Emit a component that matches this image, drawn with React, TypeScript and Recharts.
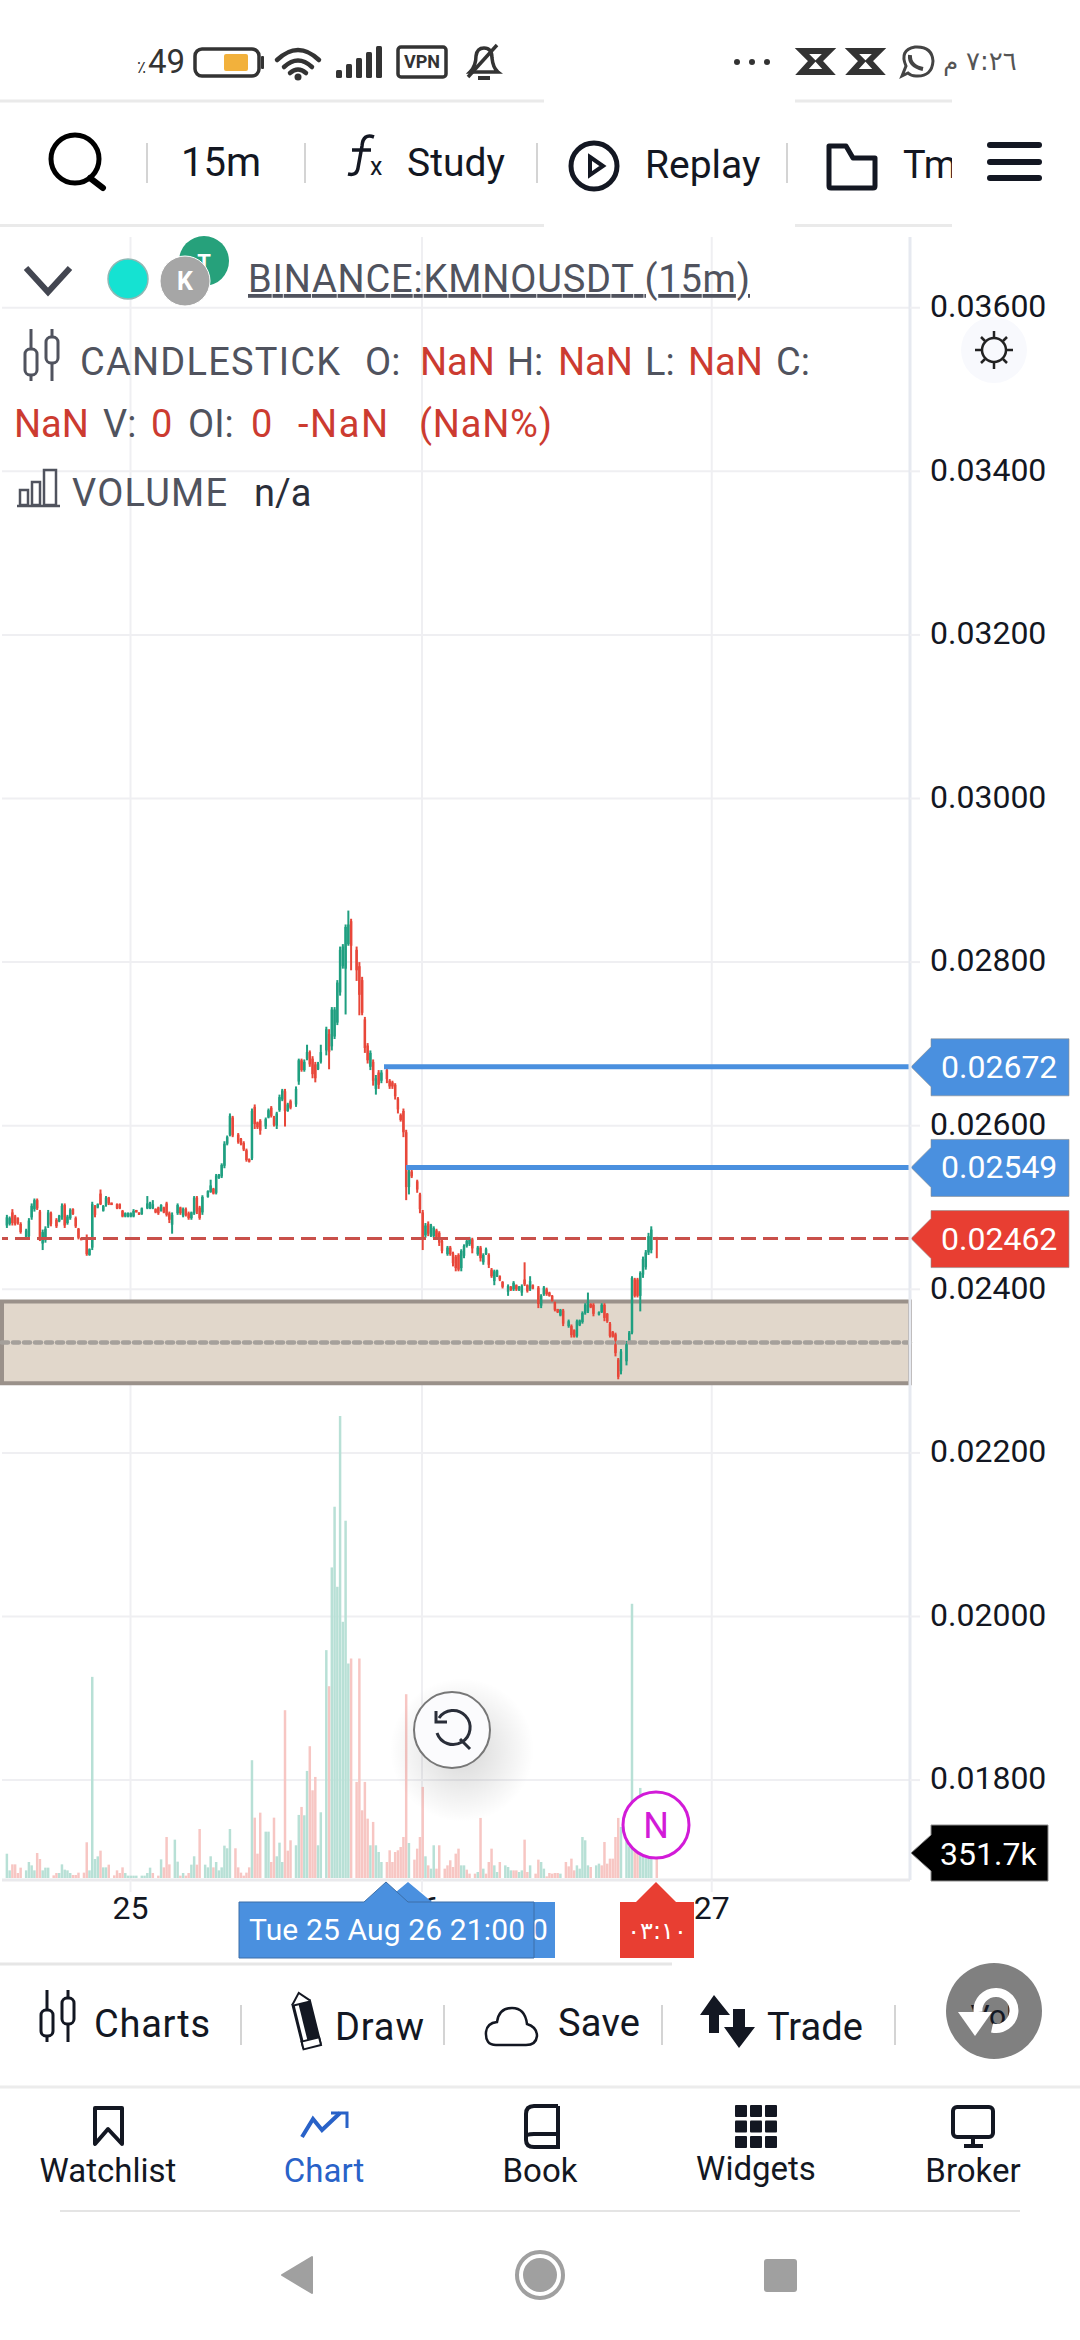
import React from "react";
import { ComposedChart, Bar, XAxis, YAxis, CartesianGrid, ReferenceLine, ReferenceArea } from "recharts";

// Prices in units of 0.00001 (2462 = 0.02462). null = empty slot.
const PRICE_UNIT = 0.00001;
const highs = [
  2491,2489,2498,2491,2488,2482,null,2474,2487,2505,2511,
  2511,2497,2473,2477,2497,2495,null,2487,2491,2505,2505,
  2491,2499,2499,2489,2475,2463,null,2467,2450,2507,2503,
  2505,2522,2503,2514,2513,2506,null,2505,2505,2497,2494,
  2494,2494,2498,2497,2494,2500,null,2514,2507,2509,2499,
  2501,2504,2501,2507,2495,2494,null,2505,2501,2500,2500,
  2495,2495,2514,2514,2502,2515,null,2521,2534,2524,2541,
  2541,2554,2581,2588,2615,2612,null,2591,2585,2581,2572,
  2560,2621,2626,2605,2608,null,2610,2621,2624,2612,2617,
  2638,2645,2645,2628,2632,null,2648,2682,2682,2681,2699,
  2692,2685,2678,2678,2699,null,2721,2718,2745,2745,2778,
  2819,2822,2846,2863,2853,null,2819,2800,2782,2733,2701,
  2692,2681,2662,2668,2668,null,2670,2657,2655,2652,2635,
  2615,2621,2595,2546,2546,null,2534,2518,2497,2481,2483,
  2480,2477,2474,2471,2461,null,2453,2453,2446,2442,2444,
  2449,2455,2461,2464,2463,null,2453,2453,2444,2451,2444,
  2426,2424,2424,2417,2410,null,2406,2404,2410,2406,2404,
  2406,2433,2406,2416,2406,null,2404,2394,2404,2402,2397,
  2393,2385,2376,2376,2376,null,2363,2357,2351,2363,2363,
  2373,2383,2396,2383,2383,null,2373,2383,2383,2371,2360,
  2349,2347,2316,2327,null,2337,2349,2416,2414,2414,2422,
  2440,2448,2469,2477,null,2464,
];
const lows = [
  2475,2478,2478,2478,2479,2468,null,2461,2461,2485,2495,
  2497,2459,2448,2457,2475,2477,null,2475,2482,2485,2475,
  2479,2485,2491,2475,2461,2460,null,2441,2441,2448,2488,
  2499,2503,2495,2501,2503,2503,null,2498,2498,2488,2488,
  2488,2488,2488,2494,2491,2491,null,2498,2498,2498,2493,
  2491,2495,2493,2489,2481,2468,null,2491,2491,2488,2489,
  2485,2485,2491,2492,2485,2491,null,2512,2518,2516,2516,
  2535,2536,2548,2576,2587,2586,null,2578,2576,2569,2556,
  2555,2558,2596,2596,2589,null,2596,2609,2610,2599,2596,
  2617,2630,2599,2617,2620,null,2623,2650,2666,2666,2680,
  2672,2658,2653,2668,2676,null,2686,2669,2692,2706,2723,
  2759,2792,2736,2820,2790,null,2777,2735,2735,2689,2676,
  2668,2649,2638,2645,2652,null,2652,2645,2645,2632,2615,
  2605,2586,2509,2516,2536,null,2518,2493,2448,2463,2465,
  2464,2463,2461,2453,2444,null,2441,2441,2428,2422,2422,
  2422,2438,2451,2453,2444,null,2441,2434,2430,2442,2426,
  2414,2405,2415,2410,2401,null,2392,2398,2398,2398,2398,
  2392,2404,2396,2398,2400,null,2377,2377,2392,2392,2391,
  2385,2373,2371,2367,2355,null,2353,2341,2341,2341,2355,
  2358,2369,2371,2377,2367,null,2368,2371,2361,2359,2341,
  2341,2318,2290,2296,null,2307,2335,2345,2390,2390,2373,
  2414,2424,2442,2444,null,2438,
];
const opens = [
  2478,2480,2494,2489,2487,2480,null,2463,2465,2488,2498,
  2509,2495,2456,2460,2478,2493,null,2485,2483,2488,2503,
  2481,2487,2498,2487,2474,2463,null,2462,2442,2451,2501,
  2500,2517,2496,2503,2512,2506,null,2504,2504,2496,2489,
  2489,2489,2489,2497,2494,2492,null,2499,2499,2499,2498,
  2500,2496,2500,2505,2493,2479,null,2493,2500,2490,2498,
  2493,2487,2493,2512,2500,2494,null,2513,2519,2523,2518,
  2536,2538,2551,2578,2589,2610,null,2589,2584,2579,2570,
  2559,2560,2623,2604,2606,null,2599,2610,2622,2610,2600,
  2619,2632,2642,2618,2630,null,2626,2654,2680,2668,2682,
  2690,2682,2675,2669,2678,null,2692,2712,2697,2709,2726,
  2763,2795,2792,2822,2850,null,2815,2795,2778,2730,2698,
  2672,2678,2645,2665,2655,null,2668,2655,2653,2650,2633,
  2613,2618,2592,2525,2544,null,2532,2516,2494,2466,2480,
  2466,2465,2472,2469,2459,null,2443,2451,2444,2440,2442,
  2426,2441,2453,2455,2461,null,2443,2451,2433,2443,2442,
  2424,2410,2416,2416,2409,null,2397,2403,2400,2405,2399,
  2396,2412,2405,2400,2405,null,2402,2380,2394,2400,2396,
  2392,2384,2376,2368,2374,null,2355,2355,2350,2343,2356,
  2360,2371,2373,2382,2381,null,2369,2372,2381,2370,2358,
  2348,2345,2314,2300,null,2312,2336,2347,2412,2412,2392,
  2418,2427,2445,2448,null,2464,
];
const closes = [
  2488,2487,2481,2480,2481,2470,null,2472,2484,2502,2509,
  2499,2462,2470,2474,2494,2480,null,2477,2490,2502,2478,
  2489,2497,2492,2477,2463,2460,null,2443,2449,2504,2491,
  2504,2504,2502,2512,2505,2503,null,2499,2499,2489,2493,
  2493,2493,2496,2494,2491,2499,null,2505,2506,2504,2494,
  2493,2503,2494,2491,2485,2491,null,2503,2493,2498,2491,
  2487,2494,2512,2495,2487,2513,null,2520,2527,2517,2539,
  2540,2552,2578,2586,2612,2588,null,2580,2578,2571,2558,
  2556,2618,2602,2598,2594,null,2608,2619,2612,2601,2615,
  2635,2643,2618,2626,2622,null,2645,2680,2668,2678,2690,
  2675,2663,2658,2676,2690,null,2718,2690,2742,2742,2775,
  2815,2819,2843,2846,2820,null,2790,2760,2738,2695,2680,
  2689,2655,2658,2650,2665,null,2657,2648,2648,2636,2620,
  2607,2592,2525,2544,2538,null,2522,2498,2462,2478,2468,
  2478,2475,2464,2457,2447,null,2451,2443,2432,2426,2424,
  2447,2453,2459,2462,2450,null,2451,2438,2442,2449,2430,
  2416,2422,2423,2412,2403,null,2404,2399,2408,2400,2403,
  2404,2406,2398,2410,2401,null,2382,2392,2402,2394,2392,
  2386,2375,2372,2375,2358,null,2361,2344,2342,2361,2362,
  2371,2381,2385,2378,2370,null,2372,2381,2365,2361,2343,
  2342,2322,2293,2324,null,2335,2347,2414,2392,2392,2420,
  2437,2445,2465,2473,null,2462,
];
// Volumes in thousands, with their own empty slots.
const volumes = [
  340,107,191,191,70,145,null,107,224,177,107,
  350,266,107,145,145,null,37,70,70,191,117,
  107,70,42,42,75,null,75,500,107,2816,266,
  303,383,149,149,187,null,37,107,70,149,70,
  33,33,33,33,null,33,33,70,145,70,null,
  33,261,149,574,191,null,537,229,33,70,33,
  70,187,304,187,686,null,187,149,304,149,224,
  107,149,453,416,686,null,416,149,75,33,75,
  149,1649,845,341,915,null,649,649,224,845,304,
  495,224,2349,383,528,null,458,883,995,878,1499,
  1845,1228,1415,458,920,null,3190,2685,4348,5198,4077,
  6468,3587,5002,3003,3073,null,1345,3073,948,1345,831,
  458,785,458,364,224,null,224,388,224,364,388,
  434,574,2573,490,null,257,411,574,1275,304,177,
  131,458,131,458,null,131,177,248,154,341,411,
  177,177,117,61,null,61,84,841,131,61,224,
  411,177,84,224,null,177,154,107,107,107,84,
  107,537,84,177,null,61,257,224,131,23,70,
  61,70,70,61,null,224,163,271,107,177,131,
  574,528,177,154,null,177,201,177,504,201,271,
  271,574,841,715,null,551,444,3839,420,420,1261,
  607,514,420,467,null,351.7,
];
const volumeSides =
  "ggrrrr.gggg" + "rrggg.rrggg" + "ggrrr.rrggg" + "grggr.rrrrg" + "gggg.ggggr." + "rgrrr.ggrgr" +
  "rggrr.gggrg" + "ggggg.rrrrr" + "rgrrr.ggrrg" + "ggrrr.ggrgg" + "rrrgg.grggg" + "ggggr.rrrrr" +
  "grggg.rrrrr" + "rrrg.rrrrgr" + "ggrr.rrrrrr" + "ggrr.rgrgrr" + "rggr.gggrrg" + "grrg.rrggrr" +
  "rrrg.rrrrgg" + "gggr.ggrrrr" + "rrrg.gggrrg" + "gggg.r";

const priceTicks = [0.036, 0.034, 0.032, 0.03, 0.028, 0.026, 0.024, 0.022, 0.02, 0.018];
const dayLabels = ["25", "26", "27"];
const daySlots = [44.85, 150.7, 255.9];
const lastPrice = 0.02462;
const drawnLevels = [
  { price: 0.02672, fromSlot: 136.9 },
  { price: 0.02549, fromSlot: 144.9 },
];
const zoneTop = 0.02385;
const zoneMid = 0.02335;
const zoneBottom = 0.02285;
const lastVolumeLabel = "351.7k";

const SLOT_DOMAIN: [number, number] = [-1.82, 327.9];
const PRICE_DOMAIN: [number, number] = [0.0167786, 0.0368646];
const VOLUME_DOMAIN: [number, number] = [-28, 22974];

const GREEN = "#1F9F80";
const RED = "#E8473A";
const VOL_GREEN = "#B8E0D6";
const VOL_RED = "#F7C6C3";
const GRID = "#EFEFF2";
const BLUE = "#4A90DF";
const TAG_RED = "#E83E32";
const TAG_EDGE = "#8C8C8C";
const INK = "#131722";
const SOFT = "#50535E";
const NAN_RED = "#CC3B30";
const FONT = "Roboto, sans-serif";
const ARABIC = "'DejaVu Sans', sans-serif";

const p = (v: number | null) => (v === null ? null : +(v * PRICE_UNIT).toFixed(5));
const rows = highs.map((_, slot) => ({
  slot,
  high: p(highs[slot]),
  low: p(lows[slot]),
  open: p(opens[slot]),
  close: p(closes[slot]),
  volume: volumes[slot] ?? null,
  side: volumeSides[slot],
}));

const Candle = (props: any) => {
  const { x, y, width, height, payload } = props;
  if (payload.high === null || !(height >= 0)) return null;
  const unit = height / (payload.high - payload.low);
  const at = (price: number) => y + (payload.high - price) * unit;
  const color = payload.close >= payload.open ? GREEN : RED;
  const top = at(Math.max(payload.open, payload.close));
  const bottom = at(Math.min(payload.open, payload.close));
  return (
    <g>
      <rect x={x + width / 2 - 1} y={y} width={2} height={height} fill={color} />
      <rect x={x} y={top} width={width} height={Math.max(bottom - top, 1)} fill={color} />
    </g>
  );
};

const VolumeBar = (props: any) => {
  const { x, y, width, height, payload } = props;
  if (payload.volume === null || payload.side === ".") return null;
  return <rect x={x} y={y} width={width} height={height} fill={payload.side === "g" ? VOL_GREEN : VOL_RED} />;
};

const PriceTag = ({ viewBox, text, fill }: any) => {
  const tipX = 911;
  const y = viewBox.y;
  return (
    <g>
      <path d={`M${tipX} ${y} L931 ${y - 20} V${y - 28} H1069 V${y + 29} H931 V${y + 20} Z`} fill={fill} stroke={TAG_EDGE} strokeOpacity={0.6} strokeWidth={1} />
      <text x={941} y={y + 11} fontFamily={FONT} fontSize={32} fill="#fff">{text}</text>
    </g>
  );
};

const T = ({ x, y, s = 38, c = SOFT, a = "start", f = FONT, w = 400, children, ...rest }: any) => (
  <text x={x} y={y} fontSize={s} fill={c} textAnchor={a} fontFamily={f} fontWeight={w} {...rest}>{children}</text>
);
const Sep = ({ x, y1, y2 }: any) => <line x1={x} x2={x} y1={y1} y2={y2} stroke="#D4D4D4" strokeWidth={2} />;
const Rule = ({ x1, x2, y, w = 3, c = "#EAEAEA" }: any) => <line x1={x1} x2={x2} y1={y} y2={y} stroke={c} strokeWidth={w} />;
const CandleIcon = ({ x, y, c = "#131722", k = 1 }: any) => (
  <g transform={`translate(${x} ${y}) scale(${k})`} fill="#fff" stroke={c} strokeWidth={3}>
    <line x1={9} x2={9} y1={0} y2={52} />
    <rect x={3} y={20} width={12} height={26} rx={5} />
    <line x1={30} x2={30} y1={0} y2={52} />
    <rect x={24} y={8} width={12} height={26} rx={5} />
  </g>
);

const Chrome = () => (
  <svg width={1080} height={2340} style={{ position: "absolute", left: 0, top: 0, pointerEvents: "none" }}>
    {/* status bar */}
    <T x={137} y={73} s={17} c="#333" f={ARABIC}>٪</T>
    <T x={148} y={73} s={33} c="#333">49</T>
    <rect x={195} y={49} width={64} height={27} rx={7} fill="#fff" stroke="#333" strokeWidth={3.5} />
    <rect x={224} y={54} width={24} height={17} rx={2} fill="#F2B13C" />
    <rect x={261} y={56} width={3} height={13} rx={1} fill="#333" />
    <g fill="none" stroke="#333" strokeWidth={4.5} strokeLinecap="round">
      <path d="M277 60 Q298 40 319 60" />
      <path d="M284 67 Q298 54 312 67" />
      <path d="M290 73 Q298 66 306 73" />
    </g>
    <circle cx={298} cy={77} r={3.5} fill="#333" />
    {[0, 1, 2, 3, 4].map((i) => (
      <rect key={i} x={336 + i * 10} y={70 - i * 6} width={6} height={8 + i * 6} rx={1.5} fill="#333" />
    ))}
    <rect x={398} y={47} width={48} height={30} rx={3} fill="#fff" stroke="#333" strokeWidth={3.5} />
    <T x={422} y={68} s={18} c="#333" a="middle" w={700}>VPN</T>
    <g fill="none" stroke="#333" strokeWidth={3.5}>
      <path d="M470 72 Q476 66 476 56 Q477 48 484 48 Q492 48 492 58 Q493 68 498 72 Z" />
      <path d="M497 45 L468 77" />
      <path d="M478 78 H490" strokeWidth={4} />
    </g>
    {[737, 752, 767].map((x) => <circle key={x} cx={x} cy={62} r={3} fill="#333" />)}
    {[799, 849].map((x) => (
      <path key={x} d={`M${x + 3} 51 H${x + 30} L${x + 20} 61 L${x + 30} 72 H${x + 3} L${x + 13} 61 Z`} fill="#fff" stroke="#333" strokeWidth={6} />
    ))}
    <path d="M902 76 L906 66 Q899 50 915 47 Q932 46 933 61 Q932 77 916 76 Q911 76 908 73 Z" fill="#fff" stroke="#444" strokeWidth={3} />
    <path d="M910 55 Q909 66 923 69" fill="none" stroke="#444" strokeWidth={4} />
    <T x={958} y={70} s={24} c="#555" a="end" f={ARABIC}>م</T>
    <T x={966} y={70} s={26} c="#555" f={ARABIC}>٧:٢٦</T>
    <Rule x1={0} x2={544} y={101} />
    <Rule x1={795} x2={952} y={101} />
    <Rule x1={0} x2={544} y={225.5} />
    <Rule x1={795} x2={952} y={225.5} />

    {/* toolbar */}
    <circle cx={75} cy={159} r={24} fill="none" stroke="#000" strokeWidth={5} />
    <line x1={90} y1={178} x2={103} y2={188} stroke="#000" strokeWidth={6} strokeLinecap="round" />
    <Sep x={147} y1={143} y2={183} />
    <T x={181} y={176} s={40} c={INK}>15m</T>
    <Sep x={305} y1={143} y2={183} />
    <path d="M374 137 Q363 133 362 146 L358 168 Q357 176 348 174 M352 150 H371" fill="none" stroke={INK} strokeWidth={3.5} />
    <T x={370} y={175} s={25} c={INK}>x</T>
    <T x={407} y={176} s={39} c={INK}>Study</T>
    <Sep x={537} y1={143} y2={183} />
    <circle cx={594} cy={166} r={23} fill="none" stroke="#131722" strokeWidth={5} />
    <path d="M590 157 L603 166 L590 175 Z" fill="none" stroke="#131722" strokeWidth={4} />
    <T x={645} y={178} s={39} c={INK}>Replay</T>
    <Sep x={787} y1={143} y2={183} />
    <path d="M829 146 H846 L853 158 H875 V186 Q875 188 873 188 H831 Q829 188 829 186 Z" fill="none" stroke="#131722" strokeWidth={5} strokeLinejoin="round" />
    <svg x={900} y={130} width={52} height={60}>
      <T x={3} y={48} s={38} c={INK}>Tm</T>
    </svg>
    {[145, 162, 178].map((y) => (
      <line key={y} x1={990} x2={1039} y1={y} y2={y} stroke="#131722" strokeWidth={6} strokeLinecap="round" />
    ))}

    {/* legend */}
    <path d="M26 268 L48 292 L70 268" fill="none" stroke="#434651" strokeWidth={6} />
    <circle cx={128} cy={279} r={20} fill="#15E2D2" stroke="#8FB8B4" strokeWidth={1.5} />
    <circle cx={204} cy={261} r={25} fill="#26A17B" />
    <T x={204} y={270} s={22} c="#fff" a="middle" w={700}>T</T>
    <circle cx={185} cy={281} r={25} fill="#A6A6A6" stroke="#fff" strokeWidth={1} />
    <T x={185} y={290} s={25} c="#fff" a="middle" w={700}>K</T>
    <T x={248} y={292} s={38} c={SOFT} textDecoration="underline" textLength={502}>BINANCE:KMNOUSDT (15m)</T>

    <CandleIcon x={22} y={329} c="#50535E" />
    <T x={80} y={375} textLength={260}>CANDLESTICK</T>
    <T x={365} y={375}>O:</T>
    <T x={420} y={375} c={NAN_RED}>NaN</T>
    <T x={507} y={375}>H:</T>
    <T x={558} y={375} c={NAN_RED}>NaN</T>
    <T x={645} y={375}>L:</T>
    <T x={688} y={375} c={NAN_RED}>NaN</T>
    <T x={776} y={375}>C:</T>
    <T x={14} y={437} c={NAN_RED}>NaN</T>
    <T x={103} y={437}>V:</T>
    <T x={151} y={437} c={NAN_RED}>0</T>
    <T x={188} y={437}>OI:</T>
    <T x={251} y={437} c={NAN_RED}>0</T>
    <T x={298} y={437} c={NAN_RED} textLength={90}>-NaN</T>
    <T x={419} y={437} c={NAN_RED} textLength={133}>(NaN%)</T>
    <g fill="none" stroke="#50535E" strokeWidth={2.5}>
      <path d="M17 506 H60" />
      <rect x={20} y={490} width={8} height={15} />
      <rect x={32} y={482} width={8} height={23} />
      <rect x={44} y={470} width={12} height={35} />
    </g>
    <T x={72} y={506} textLength={155}>VOLUME</T>
    <T x={254} y={506} c="#2A2E39">n/a</T>

    {/* settings button */}
    <circle cx={994} cy={350} r={33} fill="#F8F9FD" />
    <circle cx={994} cy={350} r={12} fill="none" stroke="#222" strokeWidth={2.5} />
    <g stroke="#222" strokeWidth={2.5}>
      <line x1={994} x2={994} y1={331} y2={338} /><line x1={994} x2={994} y1={362} y2={369} />
      <line x1={975} x2={982} y1={350} y2={350} /><line x1={1006} x2={1013} y1={350} y2={350} />
      <line x1={981} x2={985} y1={337} y2={341} /><line x1={1003} x2={1007} y1={359} y2={363} />
      <line x1={1007} x2={1003} y1={337} y2={341} /><line x1={985} x2={981} y1={359} y2={363} />
    </g>

    {/* reset-zoom button */}
    <defs>
      <radialGradient id="btnShadow">
        <stop offset="0%" stopColor="#000" stopOpacity={0.16} />
        <stop offset="100%" stopColor="#000" stopOpacity={0} />
      </radialGradient>
    </defs>
    <circle cx={462} cy={1750} r={72} fill="url(#btnShadow)" />
    <circle cx={452} cy={1730} r={38} fill="#FBFBFD" stroke="#777" strokeWidth={2} />
    <path d="M439 1718 A17 17 0 1 1 437 1733" fill="none" stroke="#2A2E39" strokeWidth={3} />
    <path d="M436 1711 V1722 H447" fill="none" stroke="#2A2E39" strokeWidth={3} />
    <line x1={460} y1={1739} x2={470} y2={1749} stroke="#2A2E39" strokeWidth={3} />

    {/* N marker */}
    <circle cx={656} cy={1825} r={33} fill="#fff" stroke="#D21BD8" strokeWidth={3} />
    <T x={656} y={1838} s={36} c="#D21BD8" a="middle">N</T>

    {/* time tags */}
    <path d="M262 1902 H384 L408 1882 L432 1902 H555 V1958 H262 Z" fill={BLUE} />
    <T x={531} y={1940} s={30} c="#fff">0</T>
    <path d="M239 1902 H364 L386 1882 L408 1902 H534 V1958 H239 Z" fill={BLUE} stroke="#3C6FA8" strokeWidth={1} />
    <T x={249} y={1940} s={30} c="#fff" textLength={276}>Tue 25 Aug 26 21:00</T>
    <path d="M620 1902 H636 L656 1882 L676 1902 H694 V1958 H620 Z" fill={TAG_RED} />
    <T x={657} y={1939} s={24} c="#fff" a="middle" f={ARABIC}>٠٣:١٠</T>
    <Rule x1={0} x2={672} y={1964} c="#E6E6E6" />

    {/* bottom toolbar */}
    <CandleIcon x={38} y={1990} />
    <T x={94} y={2037} s={38} c={INK} textLength={116}>Charts</T>
    <Sep x={241} y1={2005} y2={2045} />
    <g transform="rotate(-14 306 2022)">
      <rect x={297} y={2002} width={18} height={44} fill="#131722" stroke="#131722" strokeWidth={2} />
      <rect x={299} y={2004} width={4} height={36} fill="#fff" />
      <path d="M297 2002 L306 1992 L315 2002" fill="#fff" stroke="#131722" strokeWidth={2} />
      <rect x={297} y={2040} width={18} height={8} fill="#fff" stroke="#131722" strokeWidth={2} />
    </g>
    <T x={335} y={2040} s={38} c={INK} textLength={89}>Draw</T>
    <Sep x={444} y1={2005} y2={2045} />
    <path d="M496 2045 Q485 2045 486 2032 Q487 2023 497 2022 Q499 2008 512 2008 Q525 2008 527 2024 Q537 2027 537 2036 Q536 2045 526 2045 Z" fill="none" stroke="#131722" strokeWidth={2.5} />
    <T x={558} y={2036} s={38} c={INK} textLength={82}>Save</T>
    <Sep x={662} y1={2005} y2={2045} />
    <path d="M714 1995 L700 2015 H709 V2033 H719 V2015 H730 Z" fill="#131722" />
    <path d="M739 2048 L724 2027 H733 V2009 H745 V2027 H755 Z" fill="#131722" />
    <T x={767} y={2040} s={38} c={INK} textLength={96}>Trade</T>
    <Sep x={895} y1={2005} y2={2045} />
    <circle cx={994} cy={2011} r={48} fill="#808080" />
    <T x={992} y={2026} s={30} c="#131722" a="middle">Vol</T>
    <path d="M978 2012 A18 18 0 1 1 992 2028" fill="none" stroke="#fff" strokeWidth={9} />
    <path d="M958 2012 H992 L975 2036 Z" fill="#fff" />

    {/* tabs */}
    <path d="M95 2108 H122 V2144 L108 2129 L95 2144 Z" fill="none" stroke="#131722" strokeWidth={4} strokeLinejoin="round" />
    <T x={108} y={2182} s={33} c={INK} a="middle">Watchlist</T>
    <path d="M302 2137 L313 2119 L322 2130 L340 2113" fill="none" stroke="#2962C8" strokeWidth={4} />
    <path d="M331 2113 H347 V2128" fill="none" stroke="#2962C8" strokeWidth={3} />
    <T x={324} y={2182} s={33} c="#2962C8" a="middle">Chart</T>
    <path d="M558 2106 H534 Q526 2106 526 2114 V2140 Q526 2147 534 2147 H558 V2106 M526 2137 Q526 2134 534 2134 H558" fill="none" stroke="#131722" strokeWidth={4} />
    <T x={540} y={2182} s={33} c={INK} a="middle">Book</T>
    {[0, 1, 2].flatMap((r) => [0, 1, 2].map((c) => (
      <rect key={`${r}${c}`} x={735 + c * 15} y={2105 + r * 15.5} width={12} height={12} rx={1} fill="#131722" />
    )))}
    <T x={756} y={2180} s={33} c={INK} a="middle">Widgets</T>
    <rect x={953} y={2107} width={40} height={30} rx={4} fill="none" stroke="#131722" strokeWidth={4} />
    <path d="M973 2137 V2145 M964 2146 H983" stroke="#131722" strokeWidth={4} />
    <T x={973} y={2182} s={33} c={INK} a="middle">Broker</T>
    <Rule x1={60} x2={1020} y={2211} w={2} c="#E4E4E4" />
    <Rule x1={0} x2={1080} y={2087} c="#ECECEC" />

    {/* system navigation */}
    <path d="M312 2257 V2293 L282 2275 Z" fill="#A0A0A0" stroke="#A0A0A0" strokeWidth={2} strokeLinejoin="round" />
    <circle cx={540} cy={2275} r={23} fill="#fff" stroke="#A0A0A0" strokeWidth={4} />
    <circle cx={540} cy={2275} r={17} fill="#A0A0A0" />
    <rect x={764} y={2259} width={33} height={33} rx={3} fill="#A0A0A0" />

    {/* last volume tag */}
    <path d="M911 1853 L931 1835 V1825 H1048 V1881 H931 V1871 Z" fill="#000" stroke={TAG_EDGE} strokeWidth={1} />
    <T x={940} y={1865} s={32} c="#fff">{lastVolumeLabel}</T>
  </svg>
);

export default function App() {
  return (
    <div style={{ position: "absolute", left: 0, top: 0, width: 1080, height: 2340, background: "#fff", overflow: "hidden" }}>
      <ComposedChart
        width={1080}
        height={2340}
        data={rows}
        margin={{ top: 237, right: 0, bottom: 400, left: 2 }}
      >
        <CartesianGrid
          xAxisId="time"
          yAxisId="price"
          stroke={GRID}
          strokeWidth={2}
          horizontalValues={priceTicks}
          verticalValues={daySlots}
        />
        <XAxis
          xAxisId="time"
          dataKey="slot"
          type="number"
          domain={SLOT_DOMAIN}
          allowDataOverflow
          ticks={daySlots}
          interval={0}
          height={60}
          tickSize={12}
          tickMargin={4}
          tickFormatter={(v: number) => dayLabels[daySlots.indexOf(v)]}
          tick={{ fontFamily: FONT, fontSize: 32, fill: INK }}
          tickLine={{ stroke: GRID, strokeWidth: 2 }}
          axisLine={{ stroke: "#E9E9EC", strokeWidth: 3 }}
        />
        <XAxis xAxisId="volTime" dataKey="slot" type="number" domain={SLOT_DOMAIN} allowDataOverflow hide />
        <YAxis
          yAxisId="price"
          orientation="right"
          width={170}
          domain={PRICE_DOMAIN}
          allowDataOverflow
          ticks={priceTicks}
          interval={0}
          tickSize={10}
          tickMargin={10}
          tickFormatter={(v: number) => v.toFixed(5)}
          tick={{ fontFamily: FONT, fontSize: 32, fill: INK, textAnchor: "start", dy: -2 }}
          tickLine={{ stroke: GRID, strokeWidth: 2 }}
          axisLine={{ stroke: "#E6E9F0", strokeWidth: 3 }}
        />
        <YAxis yAxisId="vol" orientation="left" domain={VOLUME_DOMAIN} allowDataOverflow hide />

        <ReferenceArea
          xAxisId="time"
          yAxisId="price"
          x1={SLOT_DOMAIN[0]}
          x2={SLOT_DOMAIN[1]}
          y1={zoneBottom}
          y2={zoneTop}
          fill="#E1D7CB"
          fillOpacity={1}
          stroke="#9A918A"
          strokeWidth={4}
        />
        <Bar
          xAxisId="volTime"
          yAxisId="vol"
          dataKey="volume"
          barSize={2.9}
          isAnimationActive={false}
          shape={VolumeBar}
        />
        <Bar
          xAxisId="time"
          yAxisId="price"
          dataKey={(d: any) => (d.high === null ? null : [d.low, d.high])}
          barSize={3}
          isAnimationActive={false}
          shape={Candle}
        />
        <ReferenceLine
          xAxisId="time"
          yAxisId="price"
          y={zoneMid}
          stroke="#A5A09B"
          strokeWidth={4.5}
          strokeDasharray="6 5"
          strokeLinecap="round"
        />
        <ReferenceLine
          xAxisId="time"
          yAxisId="price"
          y={lastPrice}
          stroke="#C9504A"
          strokeWidth={3}
          strokeDasharray="15 7"
          label={(props: any) => <PriceTag viewBox={props.viewBox} text={lastPrice.toFixed(5)} fill={TAG_RED} />}
        />
        {drawnLevels.map((level) => (
          <ReferenceLine
            key={level.price}
            xAxisId="time"
            yAxisId="price"
            segment={[{ x: level.fromSlot, y: level.price }, { x: SLOT_DOMAIN[1], y: level.price }]}
            stroke={BLUE}
            strokeWidth={5}
            label={(props: any) => <PriceTag viewBox={props.viewBox} text={level.price.toFixed(5)} fill={BLUE} />}
          />
        ))}
      </ComposedChart>
      <Chrome />
    </div>
  );
}
